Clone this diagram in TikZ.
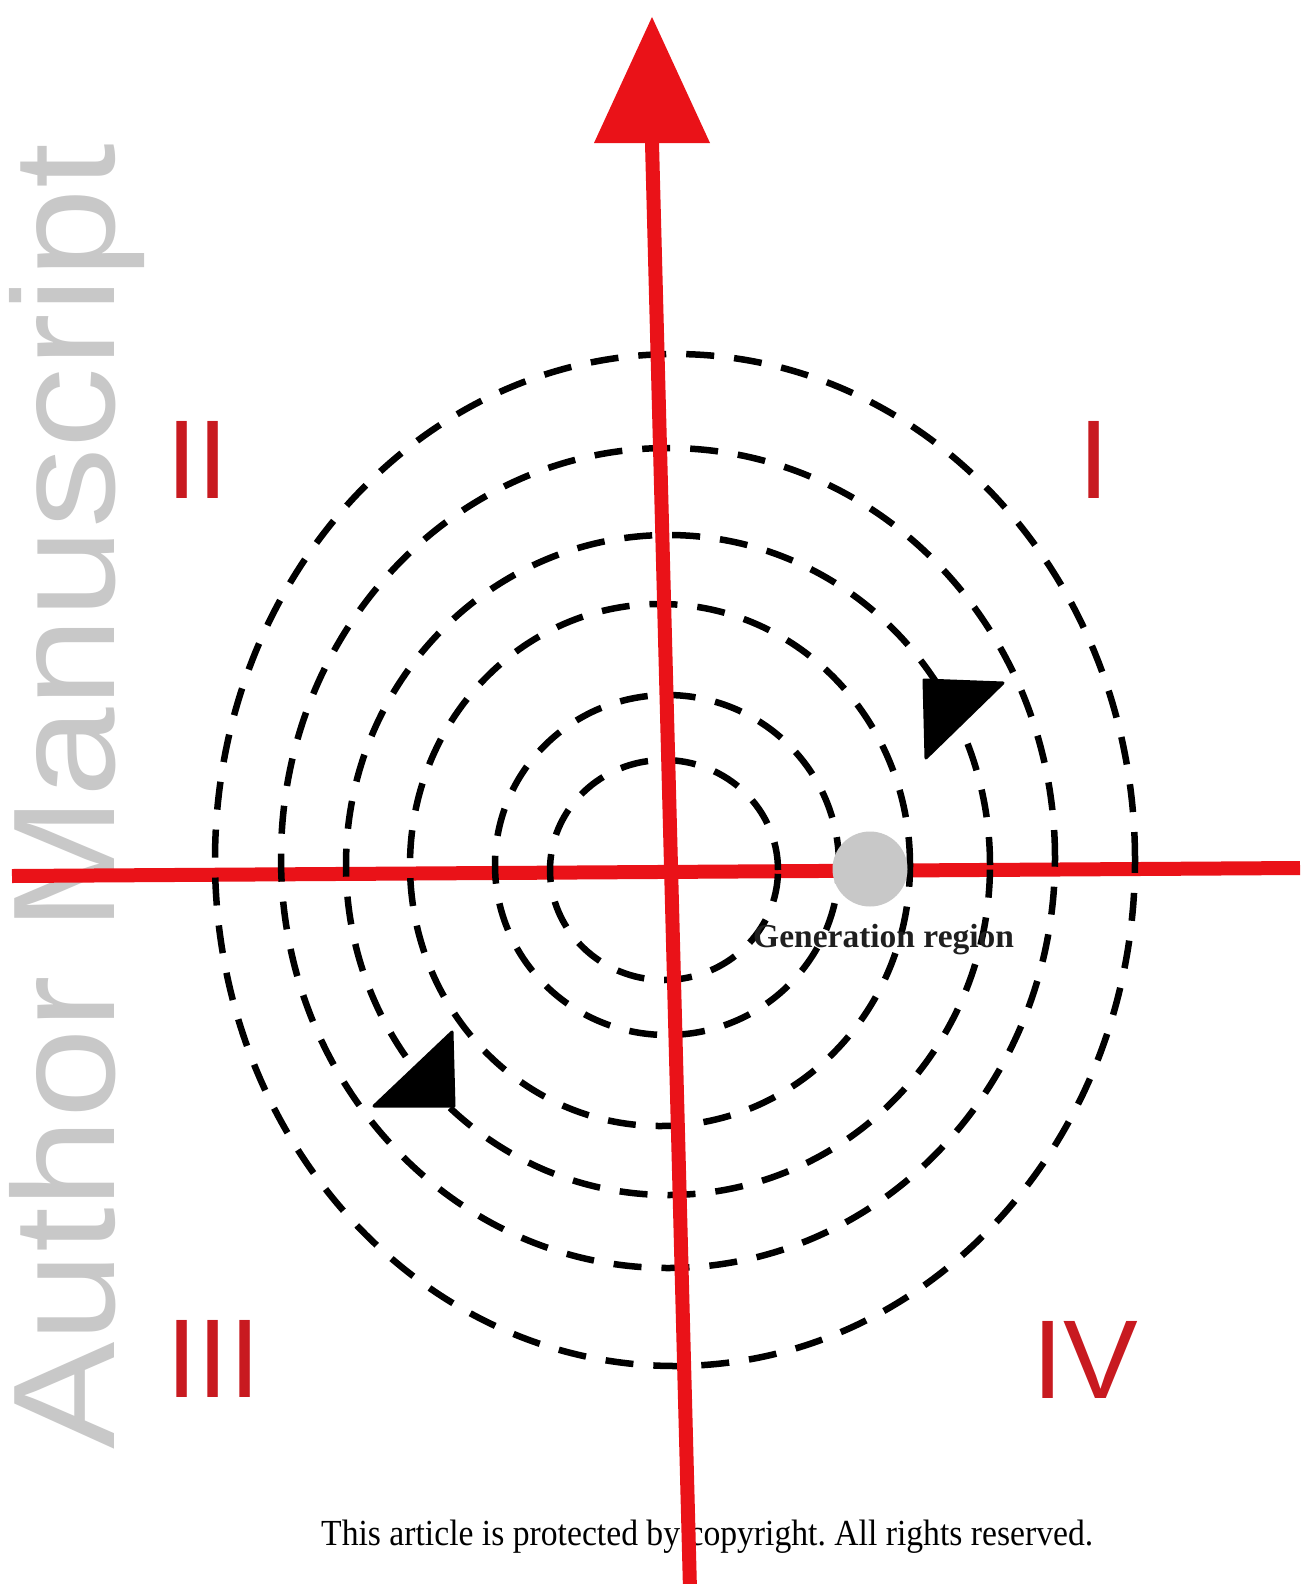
\documentclass[tikz,border=0pt]{standalone}
\usepackage{graphicx}
\usepackage{fontspec}
\setmainfont{Liberation Serif}
\newfontfamily\numfont{Liberation Sans}
\definecolor{axisred}{RGB}{234,18,24}
\definecolor{numred}{RGB}{200,26,32}
\definecolor{wmgray}{RGB}{200,200,200}
\definecolor{diskgray}{RGB}{200,200,200}
\frenchspacing
\begin{document}
\begin{tikzpicture}[x=1pt,y=-1pt,
  ring/.style={draw=black, line width=6.5pt, dash pattern=on 28pt off 20pt},
  axis/.style={draw=axisred, line width=14pt},
  numeral/.style={inner sep=0pt, anchor=base west, text=numred,
    font=\numfont\fontsize{112}{112}\selectfont},
  pennant/.style={fill=black, draw=black, line width=3pt, line join=round},
  watermark/.style={inner sep=0pt, anchor=base west, text=wmgray,
    text height=104pt, text depth=28pt,
    font=\numfont\fontsize{145}{145}\selectfont}
]
\useasboundingbox (0,0) rectangle (1304,1584);
\fill[white] (0,0) rectangle (1304,1584);
\clip (0,0) rectangle (1304,1584);

% watermark
\node[watermark, rotate=90] (wm) at (114,1450) {\scalebox{1.11}[1]{Author Manuscript}};

% copyright line
\node[inner sep=0pt, anchor=base west] (copy) at (321,1545)
  {\resizebox{772pt}{25.5pt}{This article is protected by copyright. All rights reserved.}};

% axis end points
\coordinate (xl) at (12,876);
\coordinate (xr) at (1300,868);
\coordinate (ytop) at (652,143);
\coordinate (ybot) at (690,1590);

% horizontal axis
\draw[axis] (xl) -- (xr);

% dashed rings
\draw[ring] (675,860) ellipse [x radius=460pt, y radius=506pt];
\draw[ring] (668,858) ellipse [x radius=387pt, y radius=410pt];
\draw[ring] (668,865) ellipse [x radius=322pt, y radius=330pt];
\draw[ring] (660,865) ellipse [x radius=250pt, y radius=261pt];
\draw[ring] (667,865) ellipse [x radius=172pt, y radius=170pt];
\draw[ring] (664,870) ellipse [x radius=114pt, y radius=110pt];

% vertical axis with arrow head
\draw[axis] (ybot) -- (ytop);
\fill[axisred] (594,143) -- (710,143) -- (652,17) -- cycle;

% black pennants
\filldraw[pennant] (924,680) -- (1003,683) -- (926,758) -- cycle;
\filldraw[pennant] (452,1032) -- (454,1106) -- (374,1106) -- cycle;

% generation region disk
\fill[diskgray] (870,869) circle [radius=37.5pt];
\node[inner sep=0pt, anchor=base west, text=black!88,
  font=\bfseries\fontsize{33.5}{36}\selectfont] (gen) at (753,947) {Generation region};

% quadrant numerals
\node[numeral] (q1) at (1078.6,498) {I};
\node[numeral] (q2) at (166.6,498) {II};
\node[numeral] (q3) at (166.6,1397) {III};
\node[numeral] (q4) at (1032.6,1398) {IV};
\end{tikzpicture}
\end{document}
